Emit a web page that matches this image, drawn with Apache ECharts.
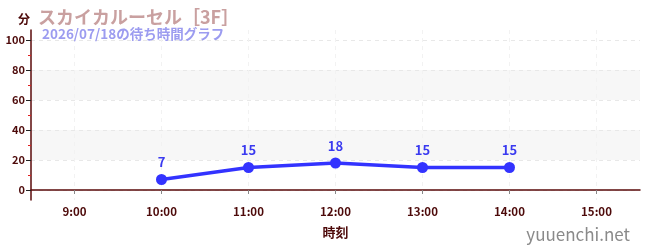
<!DOCTYPE html>
<html><head><meta charset="utf-8">
<script src="https://cdn.jsdelivr.net/npm/echarts@6/dist/echarts.min.js"></script>
<style>html,body{margin:0;padding:0;background:#fff}#c{width:650px;height:250px}</style>
</head><body><div id="c"></div>
<script>
const titleText = 'スカイカルーセル［3F］';
const subtitleText = '2026/07/18の待ち時間グラフ';
const tickHours = [9, 10, 11, 12, 13, 14, 15];
const tickLabels = ['9:00', '10:00', '11:00', '12:00', '13:00', '14:00', '15:00'];
const hours = [10, 11, 12, 13, 14];
const waits = [7, 15, 18, 15, 15];
const yMajor = [0, 20, 40, 60, 80, 100];
const yMinor = [10, 30, 50, 70, 90];

const font = '"Noto Sans CJK JP", "Noto Sans", sans-serif';
const dark = '#4d0a0a';
const yMin = -20 / 3, yMax = 320 / 3;

const chart = echarts.init(document.getElementById('c'));
chart.setOption({
  animation: false,
  textStyle: { fontFamily: font },
  title: [
    { text: titleText, left: 33, top: 3, textStyle: { fontFamily: font, fontSize: 18, fontWeight: 'bold', color: '#c9a0a0' } },
    { text: subtitleText, left: 37, top: 22, textStyle: { fontFamily: font, fontSize: 13.5, fontWeight: 'bold', color: '#9c9cf0' } },
    { text: '分', left: 13, top: 8, textStyle: { fontFamily: font, fontSize: 12, fontWeight: 'bold', color: dark } },
    { text: 'yuuenchi.net', right: 15, top: 221, textStyle: { fontFamily: font, fontSize: 17, fontWeight: 'normal', color: '#8a8a8a' } }
  ],
  grid: { left: 31, right: 10, top: 30, height: 170 },
  xAxis: {
    type: 'value', min: 8.5, max: 15.5,
    name: '時刻', nameLocation: 'middle', nameGap: 26,
    nameTextStyle: { fontFamily: font, fontSize: 13, fontWeight: 'bold', color: dark },
    axisLine: { lineStyle: { color: '#5a0a0a', width: 1.5 } },
    axisTick: { customValues: tickHours, length: 4, lineStyle: { color: '#888' } },
    axisLabel: {
      customValues: tickHours, color: dark, fontSize: 11.5, fontWeight: 'bold', margin: 6,
      formatter: v => tickLabels[tickHours.indexOf(Math.round(v))] || ''
    },
    splitLine: { show: true, lineStyle: { type: [4, 4], color: '#f2f2f2' } }
  },
  yAxis: [{
    type: 'value', min: yMin, max: yMax,
    axisLine: { show: true, lineStyle: { color: '#5a0a0a', width: 1.5 } },
    axisTick: { show: true, customValues: yMajor, length: 5, lineStyle: { color: '#222' } },
    axisLabel: { customValues: yMajor, color: dark, fontSize: 11, fontWeight: 'bold', margin: 6 },
    splitLine: { show: true, lineStyle: { type: [4, 4], color: '#e8e8e8' } },
    splitArea: { show: true, areaStyle: { color: ['rgba(0,0,0,0)', '#f7f7f7'] } }
  }, {
    type: 'value', min: yMin, max: yMax, position: 'left', offset: 0,
    axisLine: { show: false },
    axisTick: { show: true, customValues: yMinor, length: 3, lineStyle: { color: '#e02020' } },
    axisLabel: { show: false },
    splitLine: { show: false }
  }],
  series: [{
    type: 'line',
    data: hours.map((h, i) => [h, waits[i]]),
    color: '#3333ff',
    lineStyle: { width: 3.5, color: '#3333ff' },
    symbol: 'circle', symbolSize: 11,
    itemStyle: { color: '#3333ff' },
    label: { show: true, position: 'top', distance: 5, color: '#3a3af0', fontSize: 13, fontWeight: 'bold', fontFamily: font }
  }]
});
</script></body></html>
